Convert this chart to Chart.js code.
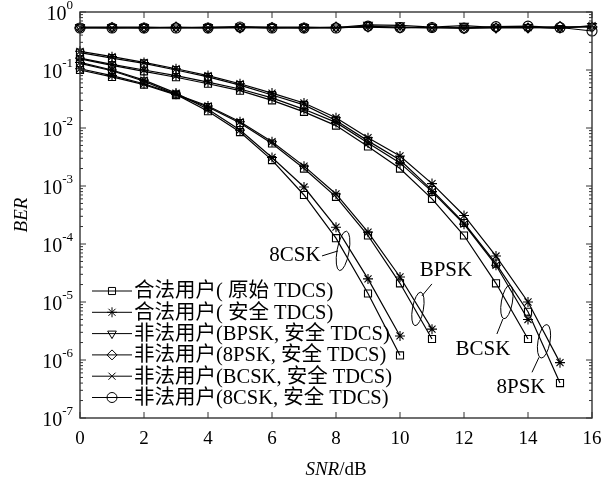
<!DOCTYPE html>
<html>
<head>
<meta charset="utf-8">
<script src="https://cdn.jsdelivr.net/npm/chart.js@4"></script>
<style>
  body { margin: 0; background: #fff; }
  canvas { display: block; }
</style>
</head>
<body>
<canvas id="grafico" width="612" height="492"></canvas>
<script>
// SNR (dB) on the x axis
const snr = [0, 1, 2, 3, 4, 5, 6, 7, 8, 9, 10, 11, 12, 13, 14, 15, 16];

// legitimate user, original TDCS (squares) and secure TDCS (stars)
const bpskOrig = [0.1, 0.076, 0.056, 0.037, 0.023, 0.0122, 0.0054, 0.002, 6.5e-4, 1.4e-4, 2.1e-5, 2.3e-6];
const bpskSec  = [0.105, 0.08, 0.058, 0.038, 0.024, 0.0128, 0.0058, 0.0022, 7.3e-4, 1.6e-4, 2.7e-5, 3.4e-6];
const csk8Orig = [0.13, 0.097, 0.064, 0.038, 0.0195, 0.0085, 0.0028, 7e-4, 1.26e-4, 1.4e-5, 1.2e-6];
const csk8Sec  = [0.135, 0.1, 0.067, 0.04, 0.021, 0.0092, 0.0031, 9.6e-4, 1.95e-4, 2.5e-5, 2.6e-6];
const bcskOrig = [0.155, 0.12, 0.095, 0.075, 0.058, 0.044, 0.03, 0.019, 0.011, 0.0048, 0.002, 6e-4, 1.4e-4, 2.1e-5, 2.3e-6];
const bcskSec  = [0.16, 0.125, 0.1, 0.08, 0.062, 0.047, 0.033, 0.021, 0.0125, 0.0055, 0.0025, 8e-4, 2.2e-4, 4.3e-5, 5e-6];
const psk8Orig = [0.2, 0.16, 0.13, 0.1, 0.076, 0.055, 0.037, 0.025, 0.0135, 0.006, 0.0028, 8.5e-4, 2.3e-4, 4.6e-5, 6.8e-6, 4e-7];
const psk8Sec  = [0.21, 0.17, 0.135, 0.105, 0.08, 0.058, 0.04, 0.027, 0.015, 0.0068, 0.0033, 0.0011, 3.1e-4, 6.2e-5, 1.0e-5, 9e-7];

// illegal users, secure TDCS
const illBpsk = [0.55, 0.55, 0.55, 0.54, 0.55, 0.56, 0.55, 0.55, 0.54, 0.6, 0.59, 0.55, 0.58, 0.54, 0.55, 0.53, 0.57];
const ill8psk = [0.53, 0.54, 0.53, 0.55, 0.53, 0.53, 0.54, 0.53, 0.55, 0.55, 0.53, 0.54, 0.52, 0.53, 0.53, 0.56, 0.55];
const illBcsk = [0.54, 0.53, 0.54, 0.53, 0.54, 0.54, 0.53, 0.54, 0.53, 0.56, 0.55, 0.53, 0.54, 0.55, 0.54, 0.52, 0.58];
const ill8csk = [0.53, 0.53, 0.53, 0.53, 0.53, 0.55, 0.53, 0.53, 0.53, 0.57, 0.54, 0.54, 0.53, 0.56, 0.57, 0.54, 0.47];

// ticks
const xTicks = [0, 2, 4, 6, 8, 10, 12, 14, 16];
const yExp = [0, -1, -2, -3, -4, -5, -6, -7];

// legend
const legendLabels = [
  "合法用户( 原始 TDCS)",
  "合法用户( 安全 TDCS)",
  "非法用户(BPSK, 安全 TDCS)",
  "非法用户(8PSK, 安全 TDCS)",
  "非法用户(BCSK, 安全 TDCS)",
  "非法用户(8CSK, 安全 TDCS)"
];
const legendStyles = [
  { pointStyle: "rect", rotation: 0 },
  { pointStyle: "star", rotation: 0 },
  { pointStyle: "triangle", rotation: 180 },
  { pointStyle: "rectRot", rotation: 0 },
  { pointStyle: "crossRot", rotation: 0 },
  { pointStyle: "circle", rotation: 0 }
];

// curve group annotations (ellipse centre in data units)
const groupNames = ["8CSK", "BPSK", "BCSK", "8PSK"];
const groupSnr = [8.22, 10.56, 13.34, 14.5];
const groupBer = [7.6e-5, 7.6e-6, 1.0e-5, 2.1e-6];

const SERIF = "'Liberation Serif', 'Times New Roman', serif";

function punti(arr) {
  return arr.map((v, i) => ({ x: snr[i], y: v }));
}

function serie(label, arr, stile) {
  return {
    label: label,
    data: punti(arr),
    borderColor: "#000",
    borderWidth: 1.2,
    pointStyle: stile.pointStyle,
    pointRotation: stile.rotation,
    pointRadius: 5,
    pointBorderWidth: 1.1,
    pointBorderColor: "#000",
    pointBackgroundColor: "rgba(0,0,0,0)",
    tension: 0,
    clip: false
  };
}

const decorazioni = {
  id: "decorazioni",
  afterDraw(chart) {
    const ctx = chart.ctx;
    const a = chart.chartArea;
    const x = chart.scales.x;
    const y = chart.scales.y;
    ctx.save();
    ctx.strokeStyle = "#333";
    ctx.fillStyle = "#000";
    ctx.lineWidth = 1.4;
    ctx.strokeRect(a.left, a.top, a.right - a.left, a.bottom - a.top);

    // x ticks and labels
    ctx.lineWidth = 1;
    ctx.font = "19px " + SERIF;
    ctx.textAlign = "center";
    ctx.textBaseline = "middle";
    for (let v of xTicks) {
      const px = x.getPixelForValue(v);
      ctx.beginPath();
      ctx.moveTo(px, a.bottom); ctx.lineTo(px, a.bottom - 6);
      ctx.moveTo(px, a.top); ctx.lineTo(px, a.top + 6);
      ctx.stroke();
      ctx.fillText(String(v), px, a.bottom + 21);
    }

    // y ticks (major + minor) and labels 10^n
    for (let e of yExp) {
      const base = Math.pow(10, e);
      const py = y.getPixelForValue(base);
      ctx.beginPath();
      ctx.moveTo(a.left, py); ctx.lineTo(a.left + 6, py);
      ctx.moveTo(a.right, py); ctx.lineTo(a.right - 6, py);
      ctx.stroke();
      if (e < 0) {
        for (let m = 2; m <= 9; m++) {
          const pm = y.getPixelForValue(m * base);
          ctx.beginPath();
          ctx.moveTo(a.left, pm); ctx.lineTo(a.left + 3, pm);
          ctx.moveTo(a.right, pm); ctx.lineTo(a.right - 3, pm);
          ctx.stroke();
        }
      }
      ctx.font = "13px " + SERIF;
      const esp = String(e);
      const wEsp = ctx.measureText(esp).width;
      const destra = a.left - 7;
      ctx.textAlign = "left";
      ctx.fillText(esp, destra - wEsp, py - 6);
      ctx.font = "20px " + SERIF;
      ctx.textAlign = "right";
      ctx.fillText("10", destra - wEsp, py + 3);
    }

    // axis titles
    ctx.font = "italic 19px " + SERIF;
    const w1 = ctx.measureText("SNR").width;
    ctx.font = "19px " + SERIF;
    const w2 = ctx.measureText("/dB").width;
    const cx = (a.left + a.right) / 2;
    let sx = cx - (w1 + w2) / 2;
    ctx.textAlign = "left";
    ctx.font = "italic 19px " + SERIF;
    ctx.fillText("SNR", sx, 470);
    ctx.font = "19px " + SERIF;
    ctx.fillText("/dB", sx + w1, 470);

    ctx.save();
    ctx.translate(22, (a.top + a.bottom) / 2);
    ctx.rotate(-Math.PI / 2);
    ctx.textAlign = "center";
    ctx.font = "italic 19px " + SERIF;
    ctx.fillText("BER", 0, 0);
    ctx.restore();

    // ellipses with labels
    const ell = [
      { rx: 6, ry: 20, tx: -48, ty: 5, l: [-21, 5, -5, 0] },
      { rx: 5.5, ry: 17, tx: 28, ty: -38, l: [14, -25, 4, -13] },
      { rx: 5.5, ry: 17, tx: -24, ty: 47, l: [-10, 32, -4, 17] },
      { rx: 6, ry: 17, tx: -23, ty: 46, l: [-12, 31, -5, 16] }
    ];
    ctx.lineWidth = 1;
    ctx.strokeStyle = "#000";
    ctx.font = "21px " + SERIF;
    ctx.textAlign = "center";
    for (let i = 0; i < groupNames.length; i++) {
      const ex = x.getPixelForValue(groupSnr[i]);
      const ey = y.getPixelForValue(groupBer[i]);
      const s = ell[i];
      ctx.beginPath();
      ctx.ellipse(ex, ey, s.rx, s.ry, 10 * Math.PI / 180, 0, 2 * Math.PI);
      ctx.stroke();
      ctx.beginPath();
      ctx.moveTo(ex + s.l[0], ey + s.l[1]);
      ctx.lineTo(ex + s.l[2], ey + s.l[3]);
      ctx.stroke();
      ctx.fillText(groupNames[i], ex + s.tx, ey + s.ty);
    }

    // legend
    ctx.font = "20.5px 'Liberation Serif', 'Noto Sans CJK SC', serif";
    ctx.textAlign = "left";
    for (let i = 0; i < legendLabels.length; i++) {
      const ly = 291 + i * 21.3;
      ctx.beginPath();
      ctx.moveTo(92, ly); ctx.lineTo(132, ly);
      ctx.stroke();
      ctx.fillStyle = "rgba(0,0,0,0)";
      ctx.beginPath();
      if (Chart.helpers && Chart.helpers.drawPoint) {
        Chart.helpers.drawPoint(ctx, {
          pointStyle: legendStyles[i].pointStyle,
          rotation: legendStyles[i].rotation,
          radius: 5,
          borderWidth: 1.1
        }, 112, ly);
      }
      ctx.fillStyle = "#000";
      ctx.fillText(legendLabels[i], 134, ly + 1);
    }
    ctx.restore();
  }
};

window.onload = () => {
  const quadrato = legendStyles[0];
  const stella = legendStyles[1];
  new Chart(document.getElementById("grafico"), {
    type: "line",
    data: {
      datasets: [
        serie("合法用户( 原始 TDCS) BPSK", bpskOrig, quadrato),
        serie("合法用户( 安全 TDCS) BPSK", bpskSec, stella),
        serie("合法用户( 原始 TDCS) 8CSK", csk8Orig, quadrato),
        serie("合法用户( 安全 TDCS) 8CSK", csk8Sec, stella),
        serie("合法用户( 原始 TDCS) BCSK", bcskOrig, quadrato),
        serie("合法用户( 安全 TDCS) BCSK", bcskSec, stella),
        serie("合法用户( 原始 TDCS) 8PSK", psk8Orig, quadrato),
        serie("合法用户( 安全 TDCS) 8PSK", psk8Sec, stella),
        serie(legendLabels[2], illBpsk, legendStyles[2]),
        serie(legendLabels[3], ill8psk, legendStyles[3]),
        serie(legendLabels[4], illBcsk, legendStyles[4]),
        serie(legendLabels[5], ill8csk, legendStyles[5])
      ]
    },
    options: {
      responsive: false,
      animation: false,
      layout: { padding: { left: 80, right: 20, top: 12, bottom: 74 } },
      scales: {
        x: { type: "linear", min: 0, max: 16, display: false },
        y: { type: "logarithmic", min: 1e-7, max: 1, display: false }
      },
      plugins: {
        legend: { display: false },
        tooltip: { enabled: false }
      }
    },
    plugins: [decorazioni]
  });
};
</script>
</body>
</html>
